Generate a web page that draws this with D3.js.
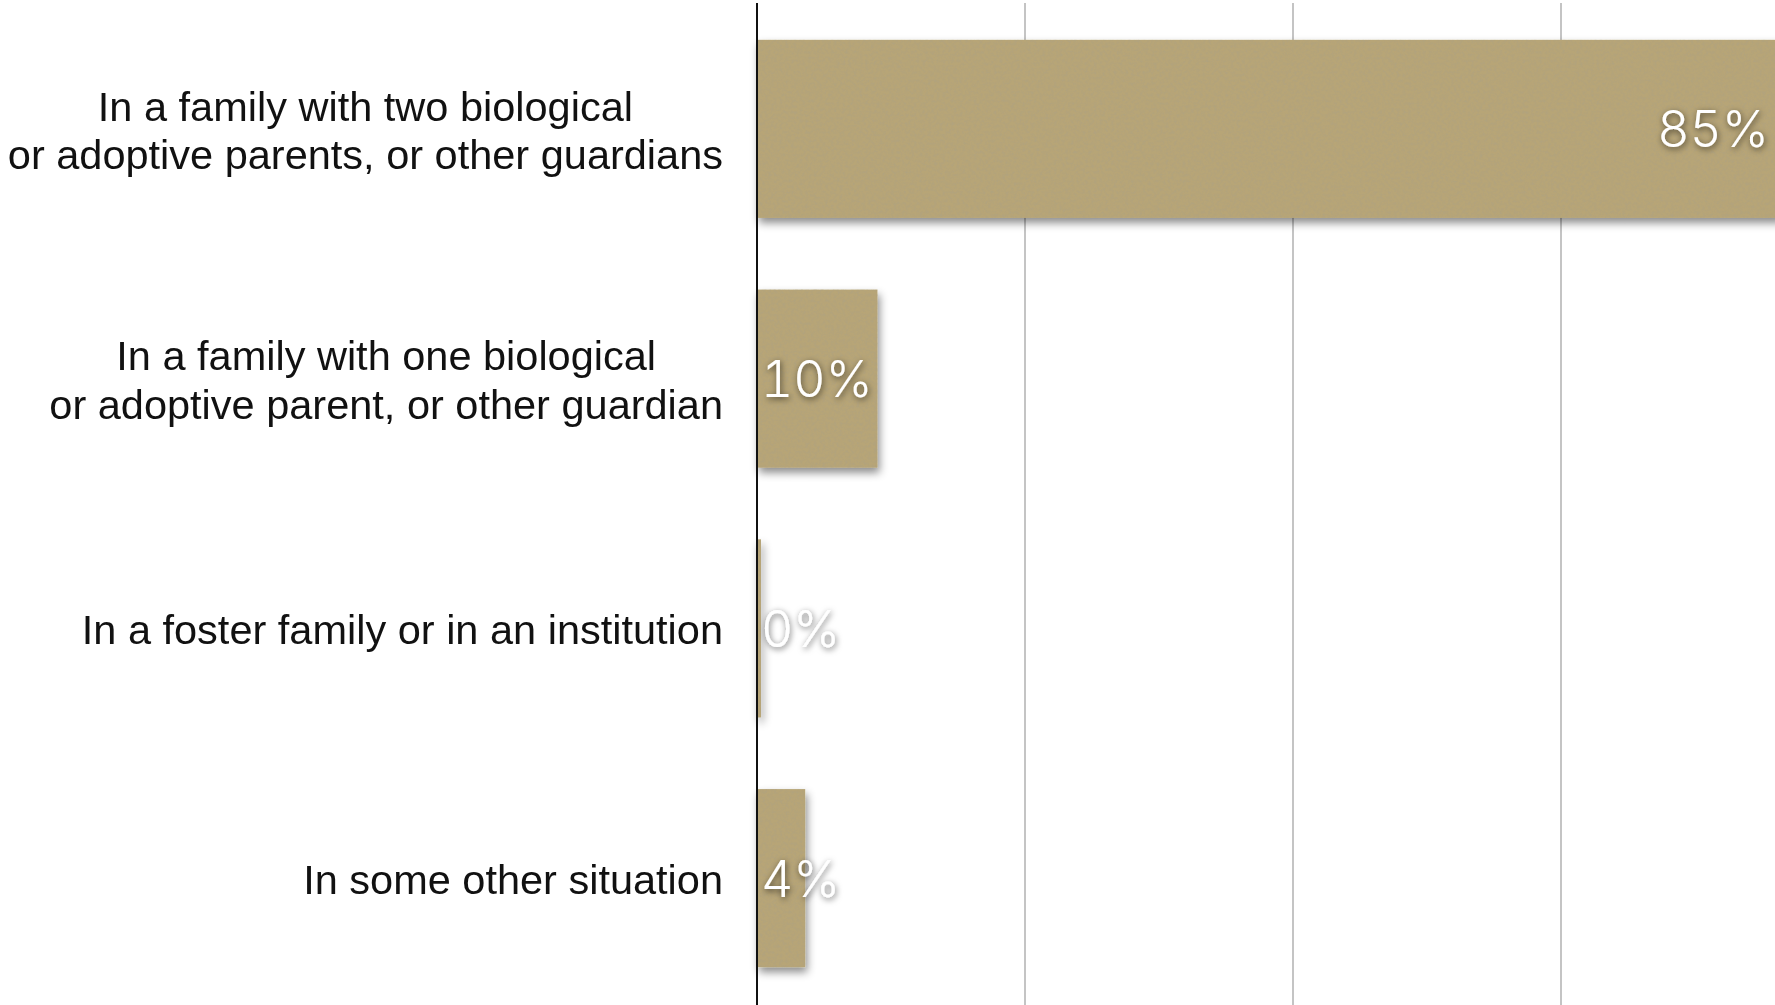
<!DOCTYPE html>
<html>
<head>
<meta charset="utf-8">
<script src="https://cdn.jsdelivr.net/npm/d3@7"></script>
<style>
  html, body { margin: 0; padding: 0; background: #ffffff; }
  svg { display: block; }
  .val { font-variant-numeric: tabular-nums; font-feature-settings: "tnum" 1; }
</style>
</head>
<body>
<svg id="chart" width="1775" height="1005"></svg>
<script>
// ---- data ----
const categories = [
  "In a family with two biological\nor adoptive parents, or other guardians",
  "In a family with one biological\nor adoptive parent, or other guardian",
  "In a foster family or in an institution",
  "In some other situation"
];
const values = [85, 10, 0, 4];
const valueLabels = ["85%", "10%", "0%", "4%"];
const gridTicks = [22.25, 44.5, 66.75, 89];

// ---- layout ----
const W = 1775, H = 1005;
const axisX = 757;
const pxPerUnit = 12.045;
const x = d3.scaleLinear().domain([0, 100]).range([axisX, axisX + 100 * pxPerUnit]);
const y = d3.scaleBand().domain(d3.range(categories.length))
  .range([4, 1003]).paddingInner(0.287).paddingOuter(0.1435);

const svg = d3.select("#chart");
const defs = svg.append("defs");

// bar drop shadow
const sh = defs.append("filter").attr("id", "barShadow")
  .attr("x", "-10%").attr("y", "-20%").attr("width", "130%").attr("height", "150%");
sh.append("feDropShadow").attr("dx", 2).attr("dy", 5).attr("stdDeviation", 4.5)
  .attr("flood-color", "#000").attr("flood-opacity", 0.45);

// paper texture
const tx = defs.append("filter").attr("id", "paper").attr("x", 0).attr("y", 0).attr("width", "100%").attr("height", "100%");
tx.append("feTurbulence").attr("type", "fractalNoise").attr("baseFrequency", 0.35)
  .attr("numOctaves", 4).attr("seed", 7).attr("result", "noise");
tx.append("feColorMatrix").attr("in", "noise").attr("type", "matrix")
  .attr("values", "0 0 0 0 0.42  0 0 0 0 0.36  0 0 0 0 0.22  1.3 0 0 0 -0.5").attr("result", "tint");
tx.append("feComposite").attr("in", "tint").attr("in2", "SourceGraphic").attr("operator", "in").attr("result", "tex");
const tm = tx.append("feMerge");
tm.append("feMergeNode").attr("in", "SourceGraphic");
tm.append("feMergeNode").attr("in", "tex");

// label shadow
const ls = defs.append("filter").attr("id", "labelShadow")
  .attr("x", "-30%").attr("y", "-40%").attr("width", "160%").attr("height", "180%");
ls.append("feDropShadow").attr("dx", 1).attr("dy", 2).attr("stdDeviation", 3)
  .attr("flood-color", "#000").attr("flood-opacity", 0.6);

// gridlines
svg.append("g").selectAll("line").data(gridTicks).join("line")
  .attr("x1", d => x(d)).attr("x2", d => x(d))
  .attr("y1", 3).attr("y2", H)
  .attr("stroke", "#c4c4c4").attr("stroke-width", 2);

// bars
const barG = svg.append("g").attr("filter", "url(#barShadow)");
barG.selectAll("rect").data(values).join("rect")
  .attr("x", axisX)
  .attr("y", (d, i) => y(i))
  .attr("width", d => Math.max(x(d) - axisX, 4))
  .attr("height", y.bandwidth())
  .attr("fill", "#b7a577")
  .attr("filter", "url(#paper)");

// axis line
svg.append("line").attr("x1", axisX).attr("x2", axisX).attr("y1", 3).attr("y2", H)
  .attr("stroke", "#111").attr("stroke-width", 2);

// category labels
const catFont = 41.5, lineGap = 48.5, labelRight = 723;
categories.forEach((c, i) => {
  const lines = c.split("\n");
  const t = svg.append("text")
    .attr("font-family", "'Liberation Sans', Arial, sans-serif")
    .attr("font-size", catFont).attr("fill", "#111")
    .attr("text-anchor", "middle");
  const cy = y(i) + y.bandwidth() / 2 + 1.5;
  const spans = lines.map((ln, k) => t.append("tspan").text(ln)
    .attr("y", cy + (k - (lines.length - 1) / 2) * lineGap + catFont * 0.35));
  const maxW = d3.max(spans, s => s.node().getComputedTextLength());
  spans.forEach(s => s.attr("x", labelRight - maxW / 2));
});

// value labels
const valFont = 50, inset = 12, minLeft = 4;
values.forEach((v, i) => {
  const t = svg.append("text")
    .attr("class", "val")
    .attr("font-family", "Inter, 'Liberation Sans', sans-serif")
    .attr("font-weight", 300)
    .attr("font-size", valFont).attr("fill", "#fff")
    .attr("filter", "url(#labelShadow)")
    .attr("y", y(i) + y.bandwidth() / 2 + valFont * 0.37)
    .text(valueLabels[i]);
  const w = t.node().getComputedTextLength();
  const barEnd = Math.max(x(v), axisX + 4);
  const left = Math.max(barEnd - inset - w, axisX + minLeft);
  t.attr("x", left);
});
</script>
</body>
</html>
